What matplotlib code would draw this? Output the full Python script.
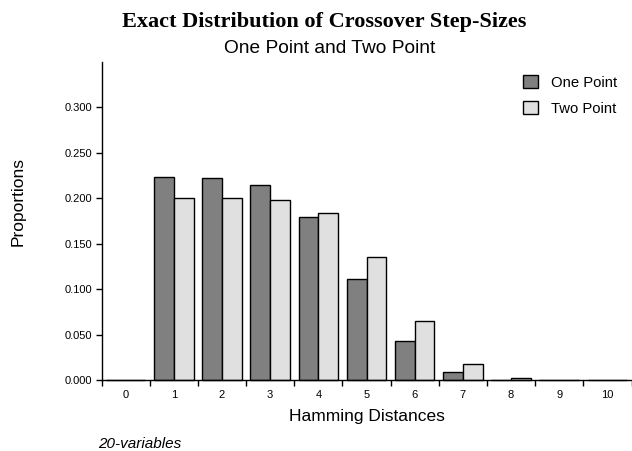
import matplotlib
matplotlib.use("Agg")
import matplotlib.pyplot as plt
import numpy as np

categories = [0, 1, 2, 3, 4, 5, 6, 7, 8, 9, 10]
one_point = [0.0, 0.2227, 0.2216, 0.214, 0.1795, 0.1113, 0.0425, 0.0088, 0.0005, 0.0002, 0.0001]
two_point = [0.0, 0.2000, 0.2000, 0.198, 0.1835, 0.1352, 0.0650, 0.0173, 0.0019, 0.0004, 0.0002]
yticks = [0.0, 0.05, 0.10, 0.15, 0.20, 0.25, 0.30]

plt.rcParams['font.family'] = ['Liberation Sans', 'DejaVu Sans']

W, H = 632, 451
fig = plt.figure(figsize=(W/100, H/100), dpi=100)
ax = fig.add_axes([101.5/W, 1-380/H, 530/W, (380-61.7)/H])

x = np.arange(len(categories))
w = 0.41
ax.bar(x - w/2, one_point, width=w, color='#808080', edgecolor='black', linewidth=1.0,
       label='One Point', clip_on=False, zorder=3)
ax.bar(x + w/2, two_point, width=w, color='#e0e0e0', edgecolor='black', linewidth=1.0,
       label='Two Point', clip_on=False, zorder=3)

ax.set_xlim(-0.5, 10.5)
ax.set_ylim(0, 0.35)
ax.set_yticks(yticks)
ax.set_yticklabels([f"{v:.3f}" for v in yticks], fontsize=8)
ax.set_xticks(x)
ax.set_xticklabels([str(c) for c in categories], fontsize=8)
ax.tick_params(axis='x', which='major', length=0, pad=7)
ax.set_xticks(np.arange(-0.5, 10.6, 1.0), minor=True)
ax.tick_params(axis='x', which='minor', length=4, width=1, direction='out')
ax.tick_params(axis='y', length=4, width=1, direction='out', pad=3)

for s in ['top', 'right']:
    ax.spines[s].set_visible(False)
for s in ['left', 'bottom']:
    ax.spines[s].set_linewidth(1.0)
    ax.spines[s].set_zorder(4)

fig.text(366.5/W, 1-421/H, 'Hamming Distances', ha='center', va='baseline', fontsize=12.5)
fig.text(18.3/W, 1-202/H, 'Proportions', ha='center', va='center', rotation=90, fontsize=12.5)

leg = ax.legend(loc='upper left', bbox_to_anchor=(522.7/W, 1-75/H), bbox_transform=fig.transFigure,
                frameon=False, fontsize=10.7, borderpad=0, borderaxespad=0,
                handlelength=1.0, handleheight=1.0, handletextpad=0.92, labelspacing=0.75)

fig.text(324/W, 1-27/H, 'Exact Distribution of Crossover Step-Sizes', ha='center', va='baseline',
         fontsize=16, fontweight='bold', family=['Liberation Serif', 'DejaVu Serif'])
fig.text(330/W, 1-53/H, 'One Point and Two Point', ha='center', va='baseline', fontsize=13.8)
fig.text(98.3/W, 1-448.5/H, '20-variables', ha='left', va='baseline', fontsize=11, style='italic')

fig.savefig('out.png', dpi=100)
